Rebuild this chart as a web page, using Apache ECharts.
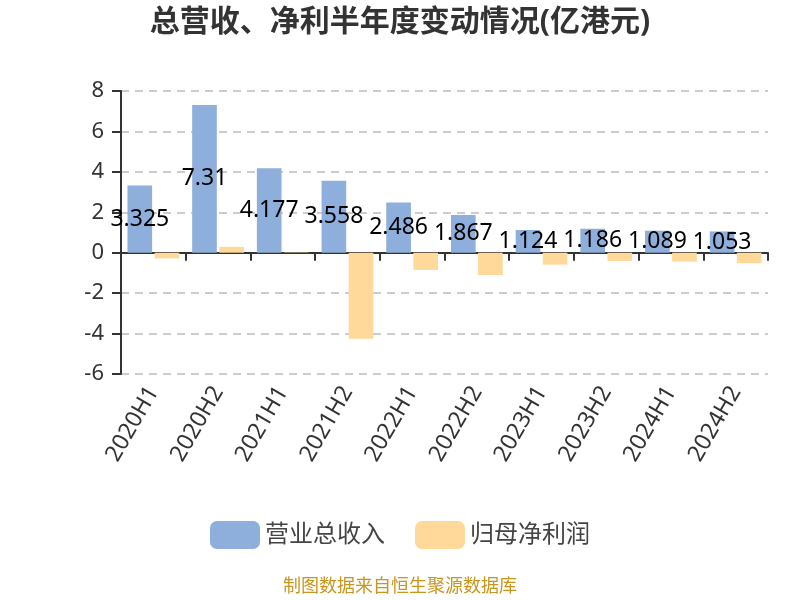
<!DOCTYPE html>
<html><head><meta charset="utf-8">
<script src="https://cdn.jsdelivr.net/npm/echarts@6/dist/echarts.min.js"></script>
<style>html,body{margin:0;padding:0;background:#fff}#c{width:800px;height:600px}</style>
</head><body><div id="c"></div>
<script>
var categories = ['2020H1','2020H2','2021H1','2021H2','2022H1','2022H2','2023H1','2023H2','2024H1','2024H2'];
var revenue = [3.325, 7.31, 4.177, 3.558, 2.486, 1.867, 1.124, 1.186, 1.089, 1.053];
var netProfit = [-0.28, 0.29, 0.02, -4.25, -0.85, -1.1, -0.59, -0.41, -0.44, -0.52];
var yTicks = {min: -6, max: 8, interval: 2};

var FF = '"Noto Sans", "Noto Sans CJK SC", sans-serif';
var chart = echarts.init(document.getElementById('c'));
chart.setOption({
  animation: false,
  textStyle: {fontFamily: FF},
  title: {text: '总营收、净利半年度变动情况(亿港元)', left: 'center', top: 2,
    textStyle: {fontSize: 30, fontWeight: 'bold', color: '#333', fontFamily: FF}},
  grid: {left: 121, right: 32, top: 91, bottom: 226},
  legend: {bottom: 46, itemWidth: 50, itemHeight: 28, itemGap: 30,
    textStyle: {fontSize: 24, color: '#444', fontFamily: FF}, data: ['营业总收入','归母净利润']},
  graphic: [{type: 'text', left: 'center', top: 578,
    style: {text: '制图数据来自恒生聚源数据库', fontSize: 18, fill: '#c8961e', fontFamily: FF}}],
  xAxis: {type: 'category', data: categories,
    axisLine: {lineStyle: {color: '#333', width: 2}},
    axisTick: {show: true, length: 8, lineStyle: {color: '#333', width: 2}},
    axisLabel: {rotate: 60, fontSize: 23, color: '#333', interval: 0, margin: 14, fontFamily: FF}},
  yAxis: {type: 'value', min: yTicks.min, max: yTicks.max, interval: yTicks.interval,
    axisLine: {show: true, lineStyle: {color: '#333', width: 2}},
    axisTick: {show: true, length: 9, lineStyle: {color: '#333', width: 2}},
    axisLabel: {fontSize: 22, color: '#333', margin: 17, fontFamily: FF},
    splitLine: {lineStyle: {type: [8, 6], color: '#ccc', width: 2}}},
  series: [
    {name: '营业总收入', type: 'bar', data: revenue, barGap: '10%', barCategoryGap: '20%',
      itemStyle: {color: '#8eaedb'},
      label: {show: true, position: 'inside', fontSize: 23, color: '#000', fontFamily: FF}},
    {name: '归母净利润', type: 'bar', data: netProfit,
      itemStyle: {color: '#ffd999'}}
  ]
});
</script></body></html>
